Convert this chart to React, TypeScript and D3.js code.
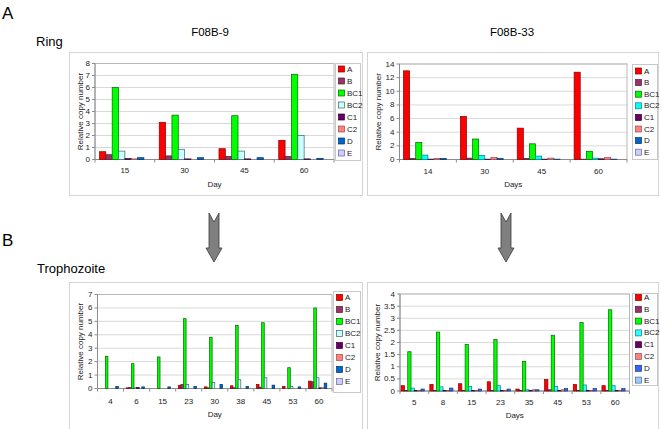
import React from "react";
import * as d3 from "d3";

const seriesNames = ["A", "B", "BC1", "BC2", "C1", "C2", "D", "E"];

// Panel A, F08B-9 (Ring)
const ringF9Days = ["15", "30", "45", "60"];
const ringF9Values = [
  [0.65, 3.1, 0.9, 1.6], // A
  [0.4, 0.3, 0.25, 0.25], // B
  [6.0, 3.7, 3.65, 7.1], // BC1
  [0.7, 0.85, 0.7, 2.0], // BC2
  [0.08, 0.05, 0.05, 0.05], // C1
  [0.05, 0, 0, 0], // C2
  [0.15, 0.15, 0.15, 0.1], // D
  [0, 0, 0, 0], // E
];
const ringF9Ticks = [0, 1, 2, 3, 4, 5, 6, 7, 8];

// Panel A, F08B-33 (Ring)
const ringF33Days = ["14", "30", "45", "60"];
const ringF33Values = [
  [13.0, 6.3, 4.6, 12.8],
  [0.15, 0.2, 0.15, 0.05],
  [2.5, 3.0, 2.3, 1.2],
  [0.65, 0.6, 0.5, 0.2],
  [0.05, 0.05, 0.05, 0.1],
  [0.15, 0.3, 0.2, 0.3],
  [0.15, 0.15, 0.05, 0.05],
  [0, 0, 0, 0],
];
const ringF33Ticks = [0, 2, 4, 6, 8, 10, 12, 14];

// Panel B, F08B-9 (Trophozoite)
const trophF9Days = ["4", "6", "15", "23", "30", "38", "45", "53", "60"];
const trophF9Values = [
  [0, 0.05, 0, 0.22, 0.12, 0.2, 0.3, 0.15, 0.55],
  [0, 0.08, 0, 0.3, 0.05, 0.05, 0.1, 0, 0.5],
  [2.4, 1.85, 2.35, 5.2, 3.8, 4.7, 4.9, 1.55, 6.0],
  [0, 0.05, 0, 0.3, 0.45, 0.65, 0.8, 0.15, 0.8],
  [0, 0.08, 0, 0, 0, 0, 0, 0, 0.05],
  [0, 0, 0, 0, 0, 0, 0, 0, 0.05],
  [0.15, 0.12, 0.12, 0.15, 0.3, 0.15, 0.25, 0.12, 0.4],
  [0, 0, 0, 0, 0, 0, 0, 0, 0],
];
const trophF9Ticks = [0, 1, 2, 3, 4, 5, 6, 7];

// Panel B, F08B-33 (Trophozoite)
const trophF33Days = ["5", "8", "15", "23", "35", "45", "53", "60"];
const trophF33Values = [
  [0.22, 0.27, 0.3, 0.38, 0.08, 0.47, 0.27, 0.22],
  [0.02, 0.02, 0.02, 0.02, 0.02, 0.05, 0.02, 0.02],
  [1.62, 2.43, 1.92, 2.12, 1.22, 2.3, 2.82, 3.35],
  [0.12, 0.17, 0.18, 0.22, 0.05, 0.18, 0.25, 0.22],
  [0.02, 0.02, 0.02, 0.02, 0.02, 0.02, 0.02, 0.02],
  [0.02, 0.02, 0.02, 0.02, 0.05, 0.05, 0.02, 0.02],
  [0.08, 0.12, 0.08, 0.08, 0.05, 0.1, 0.1, 0.1],
  [0, 0, 0, 0, 0, 0, 0, 0],
];
const trophF33Ticks = [0, 0.5, 1, 1.5, 2, 2.5, 3, 3.5, 4];

const leftFills = ["#ff0000", "#993366", "#00ff00", "#ccffff", "#660066", "#ff8080", "#0066cc", "#ccccff"];
const leftStrokes = ["#800000", "#4d1a33", "#006600", "#336666", "#330033", "#994c4c", "#003366", "#666699"];
const rightFills = ["#ff0000", "#993366", "#00ff00", "#00ffff", "#660066", "#ff8080", "#0066cc", "#ccccff"];
const rightStrokes = ["#800000", "#4d1a33", "#006600", "#008080", "#330033", "#994c4c", "#003366", "#666699"];
const bRightFills = ["#ff0000", "#993366", "#00ff00", "#33ffff", "#660066", "#ff8080", "#3366ff", "#99ccff"];
const bRightStrokes = ["#800000", "#4d1a33", "#006600", "#008080", "#330033", "#994c4c", "#1a3380", "#4d6680"];

const FONT = "'Liberation Sans', Arial, sans-serif";

type PanelProps = {
  box: [number, number, number, number];
  plot: [number, number, number, number]; // l,t,r,b
  legend: [number, number, number, number]; // x,y,w,h
  legendY0: number;
  legendStep: number;
  cats: string[];
  values: number[][];
  ticks: number[];
  gapFrac: number;
  fills: string[];
  strokes: string[];
  xTitle: string;
  yTitleX: number;
  tickDy: number;
  titleDy: number;
};

function Panel(p: PanelProps) {
  const [l, t, r, b] = p.plot;
  const yMax = p.ticks[p.ticks.length - 1];
  const y = d3.scaleLinear().domain([0, yMax]).range([b, t]);
  const x0 = d3.scaleBand<string>().domain(p.cats).range([l, r]).padding(0);
  const bw = x0.bandwidth();
  const x1 = d3
    .scaleBand<string>()
    .domain(seriesNames)
    .range([bw * p.gapFrac, bw * (1 - p.gapFrac)])
    .padding(0);
  const [lx, ly, lw, lh] = p.legend;
  return (
    <g fontFamily={FONT}>
      <rect x={p.box[0] + 0.5} y={p.box[1] + 0.5} width={p.box[2]} height={p.box[3]} fill="#fff" stroke="#d4d4d4" />
      {p.ticks.map((v) => (
        <line key={"g" + v} x1={l} x2={r} y1={y(v)} y2={y(v)} stroke="#d9d9d9" strokeWidth={1} />
      ))}
      <rect x={l} y={t} width={r - l} height={b - t} fill="none" stroke="#b8b8b8" strokeWidth={1} />
      <line x1={l} x2={l} y1={t} y2={b} stroke="#8c8c8c" />
      <line x1={l} x2={r} y1={b} y2={b} stroke="#8c8c8c" />
      {p.ticks.map((v) => (
        <g key={"t" + v}>
          <line x1={l - 3} x2={l} y1={y(v)} y2={y(v)} stroke="#8c8c8c" />
          <text x={l - 5} y={y(v)} fontSize={8} textAnchor="end" dominantBaseline="central" fill="#222">
            {d3.format("~g")(v)}
          </text>
        </g>
      ))}
      {p.cats.map((c, i) => (
        <g key={"c" + c}>
          <line x1={x0(c)!} x2={x0(c)!} y1={b} y2={b + 3} stroke="#8c8c8c" />
          {i === p.cats.length - 1 && <line x1={r} x2={r} y1={b} y2={b + 3} stroke="#8c8c8c" />}
          <text x={x0(c)! + bw / 2} y={b + p.tickDy} fontSize={8} textAnchor="middle" dominantBaseline="central" fill="#222">
            {c}
          </text>
        </g>
      ))}
      {p.values.map((row, si) =>
        row.map((v, ci) =>
          v > 0 ? (
            <rect
              key={si + "-" + ci}
              x={x0(p.cats[ci])! + x1(seriesNames[si])!}
              y={y(v)}
              width={x1.bandwidth()}
              height={b - y(v)}
              fill={p.fills[si]}
              stroke={p.strokes[si]}
              strokeWidth={0.7}
            />
          ) : null
        )
      )}
      <text x={(l + r) / 2} y={b + p.titleDy} fontSize={8} textAnchor="middle" dominantBaseline="central" fill="#222">
        {p.xTitle}
      </text>
      <text
        transform={`translate(${p.yTitleX},${(t + b) / 2}) rotate(-90)`}
        fontSize={8}
        textAnchor="middle"
        dominantBaseline="central"
        fill="#222"
      >
        Relative copy number
      </text>
      <rect x={lx + 0.5} y={ly + 0.5} width={lw} height={lh} fill="#fff" stroke="#c8c8c8" />
      {seriesNames.map((s, i) => (
        <g key={"l" + s}>
          <rect
            x={lx + 3.5}
            y={p.legendY0 + i * p.legendStep - 3}
            width={6}
            height={6}
            fill={p.fills[i]}
            stroke={p.strokes[i]}
            strokeWidth={0.7}
          />
          <text x={lx + 12} y={p.legendY0 + i * p.legendStep} fontSize={8} dominantBaseline="central" fill="#222">
            {s}
          </text>
        </g>
      ))}
    </g>
  );
}

function Arrow({ cx }: { cx: number }) {
  const top = 213;
  const neck = 248;
  const tip = 262;
  const pts = [
    [cx - 5, top],
    [cx, top + 9],
    [cx + 5, top],
    [cx + 5, neck],
    [cx + 8, neck],
    [cx, tip],
    [cx - 8, neck],
    [cx - 5, neck],
  ];
  return <polygon points={pts.map((q) => q.join(",")).join(" ")} fill="#7f7f7f" stroke="#3a3a3a" strokeWidth={0.8} />;
}

export default function App() {
  return (
    <svg width={662} height={429} style={{ position: "absolute", left: 0, top: 0, background: "#fff" }}>
      <rect width={662} height={429} fill="#fff" />
      <g fontFamily={FONT} fill="#000">
        <text x={2} y={13} fontSize={17} dominantBaseline="central">A</text>
        <text x={36} y={41} fontSize={13} dominantBaseline="central">Ring</text>
        <text x={210} y={32} fontSize={11.5} textAnchor="middle" dominantBaseline="central">F08B-9</text>
        <text x={512} y={32} fontSize={11.5} textAnchor="middle" dominantBaseline="central">F08B-33</text>
        <text x={2} y={240} fontSize={17} dominantBaseline="central">B</text>
        <text x={37} y={268} fontSize={13} dominantBaseline="central">Trophozoite</text>
      </g>
      <Panel
        box={[69, 52, 293, 143]}
        plot={[95, 63.5, 334, 159.5]}
        legend={[335, 63, 25, 97]}
        legendY0={69}
        legendStep={12}
        cats={ringF9Days}
        values={ringF9Values}
        ticks={ringF9Ticks}
        gapFrac={0.075}
        fills={leftFills}
        strokes={leftStrokes}
        xTitle="Day"
        yTitleX={80}
        tickDy={11}
        titleDy={25}
      />
      <Panel
        box={[367, 52, 291, 143]}
        plot={[399.5, 64, 627, 159.5]}
        legend={[632, 64, 25, 95]}
        legendY0={71}
        legendStep={11.6}
        cats={ringF33Days}
        values={ringF33Values}
        ticks={ringF33Ticks}
        gapFrac={0.07}
        fills={rightFills}
        strokes={rightStrokes}
        xTitle="Days"
        yTitleX={378}
        tickDy={11.5}
        titleDy={25}
      />
      <Arrow cx={214} />
      <Arrow cx={506} />
      <Panel
        box={[69, 282, 293, 150]}
        plot={[97.5, 294.5, 332, 388.5]}
        legend={[333, 291, 27, 101]}
        legendY0={297.5}
        legendStep={12}
        cats={trophF9Days}
        values={trophF9Values}
        ticks={trophF9Ticks}
        gapFrac={0.1}
        fills={leftFills}
        strokes={leftStrokes}
        xTitle="Day"
        yTitleX={80.5}
        tickDy={13}
        titleDy={26}
      />
      <Panel
        box={[367, 282, 291, 150]}
        plot={[400, 294, 629.5, 391]}
        legend={[632, 293, 25, 92]}
        legendY0={297.5}
        legendStep={11.8}
        cats={trophF33Days}
        values={trophF33Values}
        ticks={trophF33Ticks}
        gapFrac={0.04}
        fills={bRightFills}
        strokes={bRightStrokes}
        xTitle="Days"
        yTitleX={377}
        tickDy={11}
        titleDy={24}
      />
    </svg>
  );
}
